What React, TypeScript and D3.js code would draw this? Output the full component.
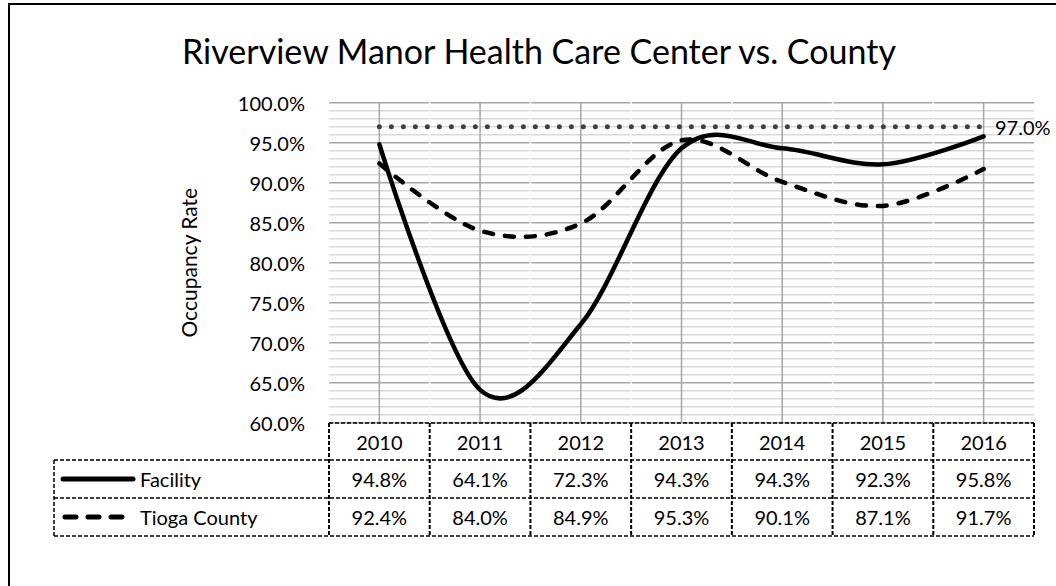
import React from "react";
import * as d3 from "d3";

const years = ["2010", "2011", "2012", "2013", "2014", "2015", "2016"];
const facility = [94.8, 64.1, 72.3, 94.3, 94.3, 92.3, 95.8];
const tioga = [92.4, 84.0, 84.9, 95.3, 90.1, 87.1, 91.7];
const benchmark = 97.0;
const seriesNames = ["Facility", "Tioga County"];
const yTicks = [60, 65, 70, 75, 80, 85, 90, 95, 100];
const title = "Riverview Manor Health Care Center vs. County";
const yTitle = "Occupancy Rate";

const FONT = "Lato, 'Open Sans', sans-serif";

export default function App() {
  const W = 1056, H = 586;
  const plotL = 329, plotR = 1034, plotT = 102.7, plotB = 422.7;
  const x = d3.scaleBand<string>().domain(years).range([plotL, plotR]);
  const cx = (yr: string) => (x(yr) as number) + x.bandwidth() / 2;
  const y = d3.scaleLinear().domain([60, 100]).range([plotB, plotT]);
  const minorTicks = d3.range(60, 100.001, 1);

  const line = d3
    .line<number>()
    .x((_, i) => cx(years[i]))
    .y((d) => y(d))
    .curve(d3.curveCardinal.tension(0));

  const rowTop = 423, hdrB = 460, r1B = 498, r2B = 536, legL = 54;
  const boundaries = years.map((yr) => x(yr) as number).concat([plotR]);
  const dash = "4 2";

  return (
    <svg width={W} height={H} style={{ position: "absolute", left: 0, top: 0, background: "#fff" }} fontFamily={FONT}>
      <rect x={0} y={0} width={W} height={H} fill="#fff" />
      <rect x={9} y={4} width={1200} height={800} fill="none" stroke="#000" strokeWidth={2} />
      <text x={539} y={64} textAnchor="middle" fontSize={34} fill="#000">{title}</text>

      {/* minor horizontal gridlines */}
      {minorTicks.filter((t) => t % 5 !== 0).map((t) => (
        <line key={"mn" + t} x1={plotL} x2={plotR} y1={y(t)} y2={y(t)} stroke="#d9d9d9" strokeWidth={1.5} />
      ))}
      {/* major horizontal gridlines */}
      {yTicks.map((t) => (
        <line key={"mj" + t} x1={plotL} x2={plotR} y1={y(t)} y2={y(t)} stroke="#a6a6a6" strokeWidth={1.5} />
      ))}
      {/* minor vertical gridlines (boundaries) */}
      {boundaries.slice(1, -1).map((b, i) => (
        <line key={"vb" + i} x1={b} x2={b} y1={plotT - 1} y2={plotB + 1} stroke="#fafafa" strokeWidth={1.5} />
      ))}
      {/* major vertical gridlines */}
      {years.map((yr) => (
        <line key={"vg" + yr} x1={cx(yr)} x2={cx(yr)} y1={plotT} y2={plotB} stroke="#a6a6a6" strokeWidth={1.5} />
      ))}

      {/* y tick labels */}
      {yTicks.map((t) => (
        <text key={"yt" + t} x={305} y={y(t)} textAnchor="end" dominantBaseline="central" fontSize={20} fill="#000">
          {d3.format(".1f")(t) + "%"}
        </text>
      ))}
      <text transform={`translate(188,${(plotT + plotB) / 2}) rotate(-90)`} textAnchor="middle" dominantBaseline="central" fontSize={21} fill="#000">
        {yTitle}
      </text>

      {/* benchmark */}
      <line x1={cx(years[0])} x2={cx(years[years.length - 1])} y1={y(benchmark)} y2={y(benchmark)} stroke="#404040" strokeWidth={5} strokeDasharray="0 12" strokeLinecap="round" />
      <text x={995} y={y(benchmark)} dominantBaseline="central" fontSize={20} fill="#000">
        {d3.format(".1f")(benchmark) + "%"}
      </text>

      {/* series */}
      <path d={line(tioga) as string} fill="none" stroke="#000" strokeWidth={4.5} strokeDasharray="9 12" strokeLinecap="round" />
      <path d={line(facility) as string} fill="none" stroke="#000" strokeWidth={4.5} strokeLinecap="round" />

      {/* data table */}
      <g stroke="#000" strokeWidth={1.5} strokeDasharray={dash} fill="none">
        <line x1={plotL} x2={plotR} y1={rowTop} y2={rowTop} />
        <line x1={legL} x2={plotR} y1={hdrB} y2={hdrB} />
        <line x1={legL} x2={plotR} y1={r1B} y2={r1B} />
        <line x1={legL} x2={plotR} y1={r2B} y2={r2B} />
        <line x1={legL} x2={legL} y1={hdrB} y2={r2B} />
        {boundaries.map((b, i) => (
          <line key={"tb" + i} x1={b} x2={b} y1={rowTop} y2={r2B} strokeWidth={2} />
        ))}
      </g>
      {years.map((yr) => (
        <text key={"h" + yr} x={cx(yr)} y={(rowTop + hdrB) / 2} textAnchor="middle" dominantBaseline="central" fontSize={20} fill="#000">{yr}</text>
      ))}
      {facility.map((v, i) => (
        <text key={"f" + i} x={cx(years[i])} y={(hdrB + r1B) / 2} textAnchor="middle" dominantBaseline="central" fontSize={20} fill="#000">{d3.format(".1f")(v) + "%"}</text>
      ))}
      {tioga.map((v, i) => (
        <text key={"t" + i} x={cx(years[i])} y={(r1B + r2B) / 2} textAnchor="middle" dominantBaseline="central" fontSize={20} fill="#000">{d3.format(".1f")(v) + "%"}</text>
      ))}
      {/* legend keys */}
      <line x1={63} x2={133} y1={(hdrB + r1B) / 2} y2={(hdrB + r1B) / 2} stroke="#000" strokeWidth={5} strokeLinecap="round" />
      <line x1={65} x2={122} y1={(r1B + r2B) / 2} y2={(r1B + r2B) / 2} stroke="#000" strokeWidth={5} strokeLinecap="round" strokeDasharray="11 12" />
      <text x={140} y={(hdrB + r1B) / 2} dominantBaseline="central" fontSize={20} fill="#000">{seriesNames[0]}</text>
      <text x={140} y={(r1B + r2B) / 2} dominantBaseline="central" fontSize={20} fill="#000">{seriesNames[1]}</text>
    </svg>
  );
}
